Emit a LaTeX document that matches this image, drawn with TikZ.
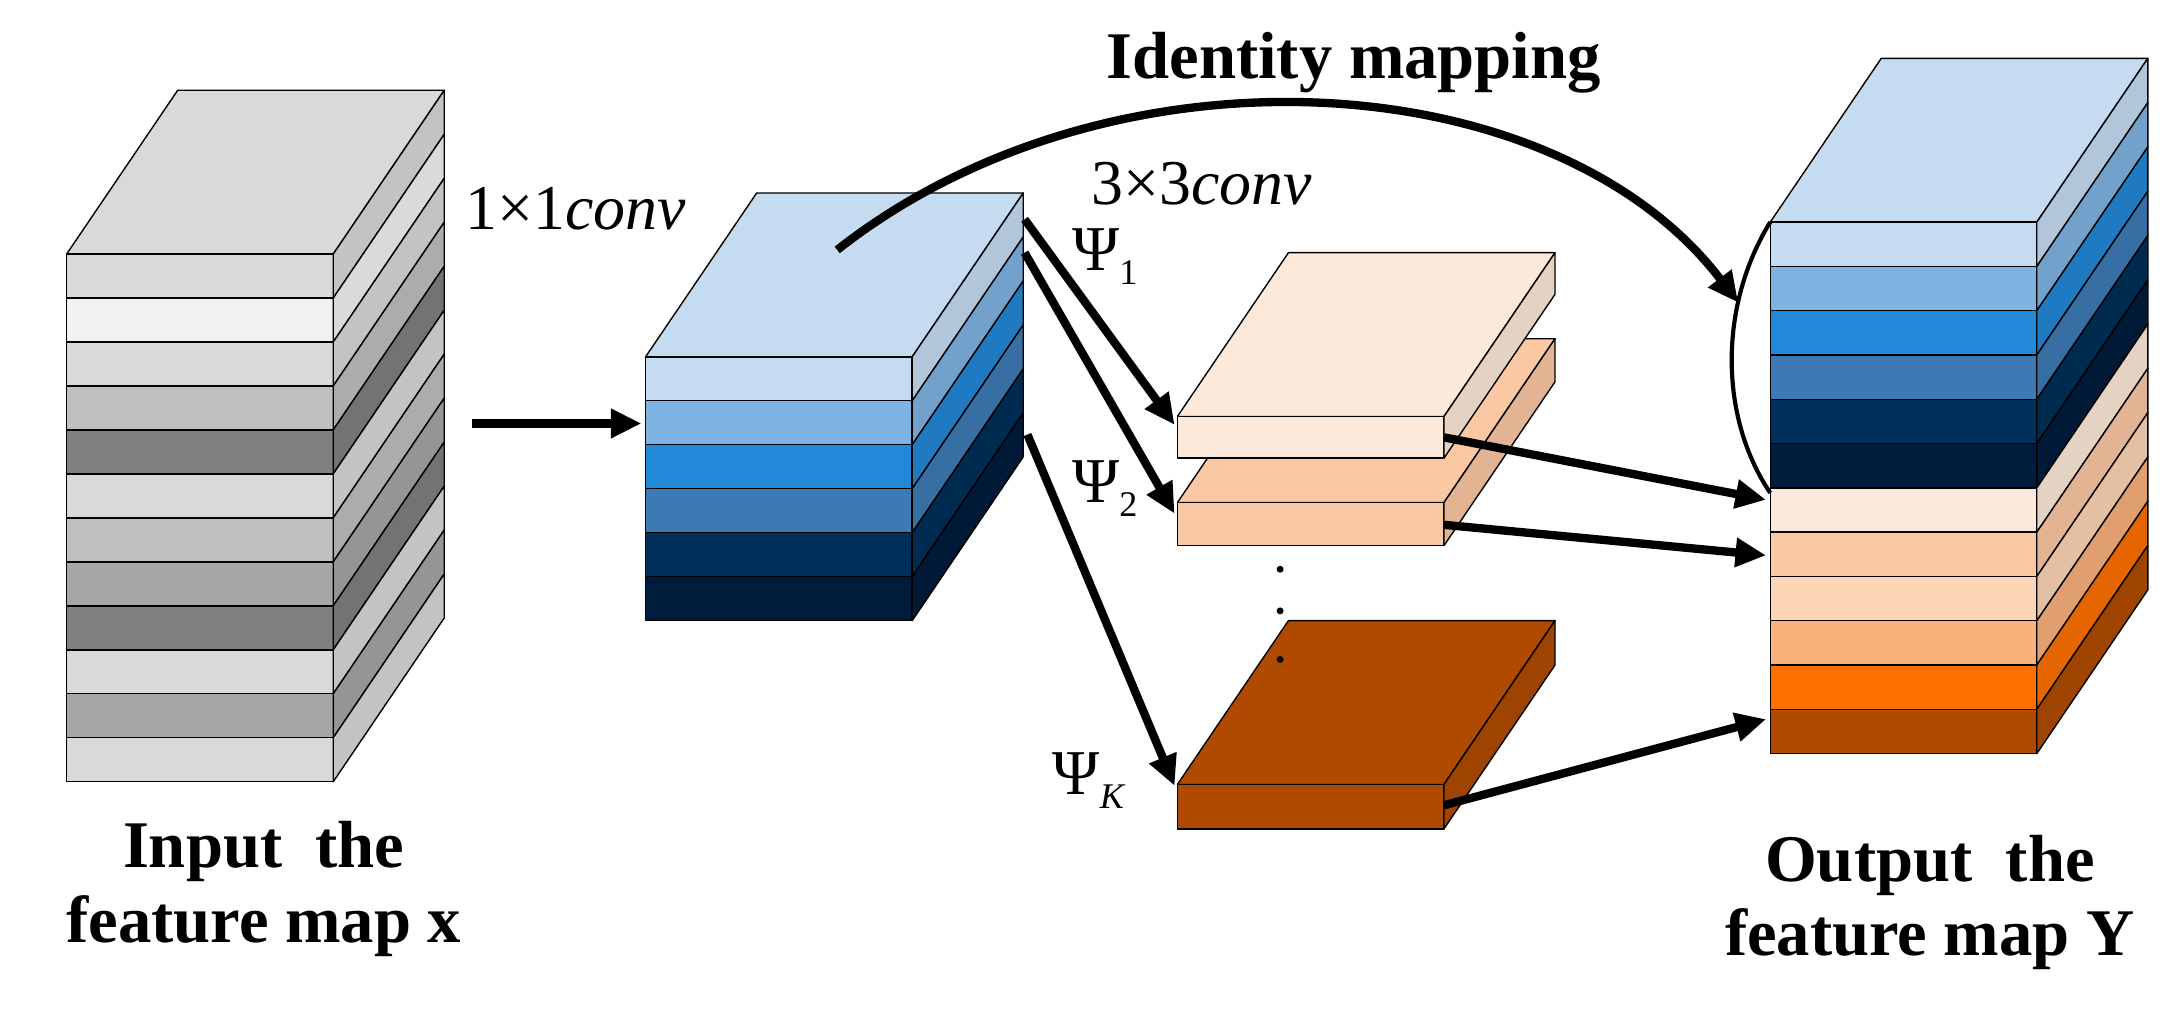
\documentclass[tikz,border=0pt]{standalone}
\usepackage{fontspec}
\setmainfont{Liberation Serif}
\usetikzlibrary{arrows.meta}
\definecolor{b1}{HTML}{C5DCF0}\definecolor{b2}{HTML}{7FB3E3}\definecolor{b3}{HTML}{2288D8}
\definecolor{b4}{HTML}{3D7AB5}\definecolor{b5}{HTML}{00305A}\definecolor{b6}{HTML}{001C3C}
\definecolor{o1}{HTML}{FDE9D9}\definecolor{o2}{HTML}{FBC8A4}\definecolor{o3}{HTML}{FCD5B5}
\definecolor{o4}{HTML}{FAB07A}\definecolor{o5}{HTML}{FF7000}\definecolor{o6}{HTML}{B04A00}
\definecolor{g1}{HTML}{D9D9D9}\definecolor{g2}{HTML}{F2F2F2}\definecolor{g3}{HTML}{BFBFBF}
\definecolor{g4}{HTML}{808080}\definecolor{g5}{HTML}{A6A6A6}
\tikzset{face/.style={draw=black,line width=1pt,line join=round},
 arr/.style={line width=6pt,-{Triangle[length=22pt,width=20pt]}},
 lab/.style={font=\fontsize{46}{50}\selectfont,anchor=west,inner sep=0},
 big/.style={font=\fontsize{48}{54}\selectfont\bfseries,align=center}}
% #1 x-left, #2 y-top, #3 row height, #4 color list, #5 top color
\newcommand\mystack[5]{%
 \fill[#5] (#1,#2) -- ++(80,-118) -- ++(192,0) -- ++(-80,118) -- cycle;
 \draw[face] (#1,#2) -- ++(80,-118) -- ++(192,0) -- ++(-80,118) -- cycle;
 \foreach \c [count=\i from 0] in {#4}{
  \pgfmathsetmacro\ya{#2+\i*#3}\pgfmathsetmacro\yb{#2+(\i+1)*#3}
  \draw[face,fill=\c] (#1,\ya) rectangle (#1+192,\yb);
  \draw[face,fill=\c!90!black] (#1+192,\ya) -- (#1+272,\ya-118) -- (#1+272,\yb-118) -- (#1+192,\yb) -- cycle;
 }}
\begin{document}
\begin{tikzpicture}[x=1pt,y=-1pt]
\useasboundingbox (0,0) rectangle (1568,727);
\mystack{48}{183}{31.67}{g1,g2,g1,g3,g4,g1,g3,g5,g4,g1,g5,g1}{g1}
\mystack{465}{257}{31.67}{b1,b2,b3,b4,b5,b6}{b1}
\mystack{848}{362}{31}{o2}{o2}
\mystack{848}{300}{30}{o1}{o1}
\mystack{848}{565}{32}{o6}{o6}
\mystack{1275}{160}{31.9}{b1,b2,b3,b4,b5,b6,o1,o2,o3,o4,o5,o6}{b1}
\foreach \y in {410,440,475} \fill (922,\y) circle (2.5);
\coordinate (a0) at (340,305); \coordinate (a1) at (462,305);
\draw[arr] (a0) -- (a1);
\coordinate (s1) at (738,158); \coordinate (t1) at (846,306);
\coordinate (s2) at (738,182); \coordinate (t2) at (846,370);
\coordinate (s3) at (740,313); \coordinate (t3) at (846,566);
\draw[arr] (s1) -- (t1); \draw[arr] (s2) -- (t2); \draw[arr] (s3) -- (t3);
\coordinate (u1) at (1040,315); \coordinate (v1) at (1272,360);
\coordinate (u2) at (1040,378); \coordinate (v2) at (1272,400);
\coordinate (u3) at (1040,580); \coordinate (v3) at (1272,518);
\draw[arr] (u1) -- (v1); \draw[arr] (u2) -- (v2); \draw[arr] (u3) -- (v3);
\coordinate (i0) at (603,180); \coordinate (i1) at (1252,218);
\draw[arr] (i0) .. controls (800,25) and (1120,45) .. (i1);
\draw[line width=3pt] (1275,160) .. controls (1238,220) and (1238,300) .. (1275,355);
\node[lab] (c1) at (335,150) {1×1\textit{conv}};
\node[lab] (c3) at (786,132) {3×3\textit{conv}};
\node[lab] (p1) at (772,185) {Ψ\raisebox{-10pt}{\fontsize{26}{28}\selectfont 1}};
\node[lab] (p2) at (772,352) {Ψ\raisebox{-10pt}{\fontsize{26}{28}\selectfont 2}};
\node[lab] (pk) at (758,562) {Ψ\raisebox{-10pt}{\fontsize{26}{28}\selectfont\itshape K}};
\node[big] (id) at (975,45) {Identity mapping};
\node[big] (in) at (190,640) {Input\ \ the\\feature map x};
\node[big] (out) at (1390,650) {Output\ \ the\\feature map Y};
\end{tikzpicture}
\end{document}
